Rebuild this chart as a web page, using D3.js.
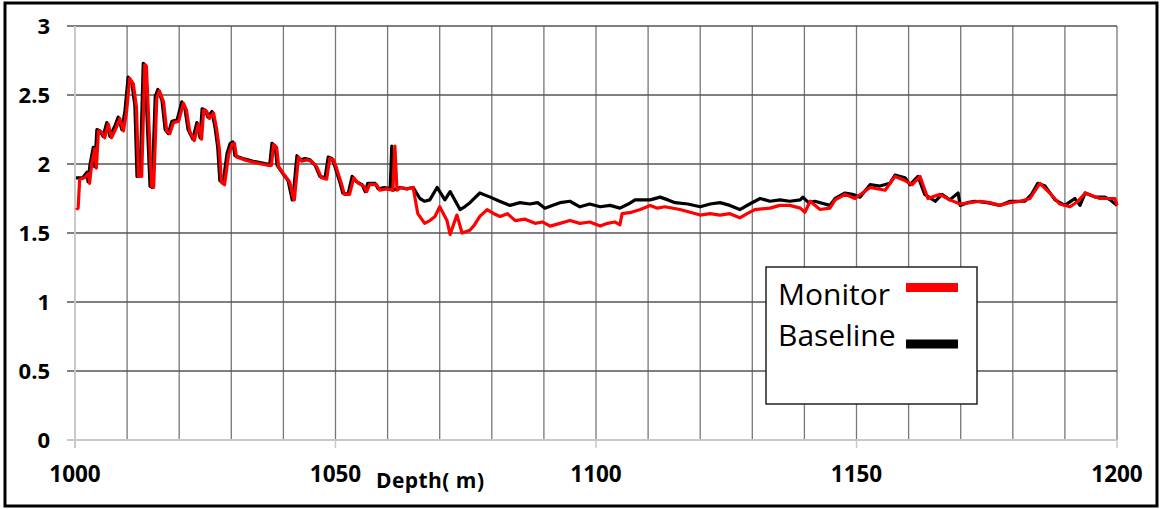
<!DOCTYPE html>
<html>
<head>
<meta charset="utf-8">
<script src="https://cdn.jsdelivr.net/npm/d3@7"></script>
<style>
  body { margin: 0; background: #fff; }
  text { font-family: "Open Sans", "Liberation Sans", sans-serif; }
</style>
</head>
<body>
<div id="chart"></div>
<script>
// ticks
const xTicksMajor = [1000, 1050, 1100, 1150, 1200]
const xGrid = d3.range(1010, 1201, 10)
const yTicks = [0, 0.5, 1, 1.5, 2, 2.5, 3]

// baseline (black) : [depth, value]
const baseline = [
  [1000.2, 1.90], [1000.8, 1.90], [1001.5, 1.90], [1002.3, 1.94], [1002.5, 1.87], [1002.9, 2.00],
  [1003.5, 2.12], [1003.8, 1.98], [1004.2, 2.25], [1004.8, 2.24], [1005.4, 2.20], [1006.1, 2.30],
  [1006.7, 2.20], [1007.7, 2.28], [1008.3, 2.34], [1009.0, 2.25], [1009.6, 2.39], [1010.2, 2.63],
  [1010.9, 2.59], [1011.5, 2.42], [1011.9, 1.91], [1012.5, 1.91], [1013.1, 2.73], [1013.4, 2.72],
  [1014.4, 1.84], [1014.8, 1.83], [1015.4, 2.49], [1015.9, 2.54], [1016.7, 2.46], [1017.3, 2.25],
  [1017.9, 2.22], [1018.6, 2.31], [1019.6, 2.32], [1020.5, 2.45], [1021.1, 2.40], [1021.7, 2.25],
  [1022.6, 2.18], [1023.4, 2.30], [1024.0, 2.19], [1024.4, 2.40], [1025.0, 2.39], [1025.5, 2.34],
  [1026.3, 2.38], [1026.9, 2.26], [1027.4, 2.12], [1027.8, 1.88], [1028.4, 1.86], [1029.2, 2.08],
  [1029.8, 2.15], [1030.3, 2.16], [1030.7, 2.06], [1032.2, 2.04], [1033.2, 2.03], [1034.2, 2.02],
  [1035.5, 2.01], [1036.9, 2.00], [1037.4, 2.00], [1037.8, 2.15], [1038.4, 2.13], [1038.8, 1.99],
  [1039.9, 1.93], [1040.9, 1.88], [1041.7, 1.74], [1041.8, 1.74], [1042.6, 2.06], [1043.2, 2.03],
  [1044.2, 2.04], [1045.1, 2.03], [1046.1, 1.99], [1047.0, 1.91], [1048.0, 1.90], [1048.6, 2.05],
  [1049.3, 2.04], [1049.9, 1.98], [1050.9, 1.86], [1051.4, 1.79], [1052.4, 1.78], [1053.2, 1.91],
  [1054.1, 1.87], [1055.1, 1.85], [1055.7, 1.80], [1056.2, 1.86], [1057.6, 1.86], [1058.2, 1.82],
  [1059.4, 1.83], [1060.5, 1.82], [1060.8, 2.13], [1061.0, 1.81], [1062.4, 1.83], [1063.6, 1.82],
  [1064.9, 1.83], [1066.2, 1.75], [1067.1, 1.73], [1068.1, 1.74], [1069.5, 1.83], [1071.0, 1.74],
  [1072.0, 1.80], [1073.9, 1.67], [1074.8, 1.69], [1075.8, 1.72], [1077.7, 1.79], [1079.7, 1.76],
  [1081.5, 1.73], [1083.5, 1.70], [1085.4, 1.72], [1087.3, 1.71], [1088.8, 1.72], [1090.2, 1.68],
  [1091.6, 1.70], [1093.1, 1.72], [1095.0, 1.73], [1096.9, 1.69], [1098.8, 1.71], [1100.8, 1.69],
  [1102.7, 1.70], [1104.6, 1.68], [1106.2, 1.71], [1107.5, 1.74], [1110.4, 1.74], [1112.3, 1.76],
  [1113.8, 1.74], [1115.2, 1.72], [1117.6, 1.71], [1120.0, 1.69], [1121.9, 1.71], [1123.8, 1.72],
  [1125.7, 1.70], [1127.6, 1.67], [1129.5, 1.71], [1131.5, 1.75], [1133.4, 1.73], [1135.3, 1.74],
  [1137.2, 1.73], [1139.2, 1.74], [1139.7, 1.76], [1140.8, 1.72], [1142.0, 1.73], [1144.9, 1.70],
  [1145.9, 1.75], [1147.8, 1.79], [1149.2, 1.78], [1150.7, 1.76], [1152.6, 1.85], [1154.5, 1.84],
  [1156.4, 1.86], [1157.4, 1.92], [1159.3, 1.90], [1160.3, 1.85], [1161.8, 1.91], [1163.1, 1.78],
  [1165.1, 1.73], [1166.4, 1.78], [1167.9, 1.74], [1169.5, 1.79], [1169.9, 1.70], [1171.3, 1.72],
  [1172.7, 1.73], [1175.1, 1.72], [1177.5, 1.70], [1179.5, 1.73], [1182.3, 1.73], [1183.6, 1.78],
  [1184.8, 1.86], [1186.2, 1.84], [1188.1, 1.74], [1190.0, 1.70], [1191.9, 1.75], [1192.9, 1.70],
  [1193.9, 1.79], [1195.8, 1.76], [1197.7, 1.76], [1198.7, 1.74], [1200.0, 1.70]
]

// monitor (red) : [depth, value]
const monitor = [
  [1000.2, 1.67], [1000.6, 1.68], [1000.9, 1.89], [1001.8, 1.90], [1002.6, 1.93], [1002.8, 1.86],
  [1003.2, 2.00], [1003.8, 2.11], [1004.1, 1.97], [1004.5, 2.24], [1005.1, 2.23], [1005.7, 2.19],
  [1006.4, 2.29], [1007.0, 2.19], [1008.0, 2.27], [1008.6, 2.33], [1009.3, 2.24], [1009.9, 2.38],
  [1010.5, 2.62], [1011.2, 2.58], [1011.8, 2.41], [1012.2, 1.91], [1012.8, 1.91], [1013.4, 2.72],
  [1013.7, 2.71], [1014.7, 1.84], [1015.1, 1.83], [1015.7, 2.48], [1016.2, 2.53], [1017.0, 2.45],
  [1017.6, 2.24], [1018.2, 2.22], [1018.9, 2.30], [1019.9, 2.31], [1020.8, 2.44], [1021.4, 2.39],
  [1022.0, 2.24], [1022.9, 2.17], [1023.7, 2.29], [1024.3, 2.18], [1024.7, 2.39], [1025.3, 2.38],
  [1025.8, 2.33], [1026.6, 2.37], [1027.2, 2.25], [1027.7, 2.11], [1028.1, 1.87], [1028.7, 1.85],
  [1029.5, 2.07], [1030.1, 2.14], [1030.6, 2.15], [1031.0, 2.05], [1032.5, 2.03], [1033.5, 2.02],
  [1034.5, 2.01], [1035.8, 2.00], [1037.2, 1.99], [1037.7, 1.99], [1038.1, 2.14], [1038.7, 2.12],
  [1039.1, 1.98], [1040.2, 1.92], [1041.2, 1.87], [1042.0, 1.74], [1042.1, 1.74], [1042.9, 2.05],
  [1043.5, 2.02], [1044.5, 2.03], [1045.4, 2.02], [1046.4, 1.98], [1047.3, 1.90], [1048.3, 1.89],
  [1048.9, 2.04], [1049.6, 2.03], [1050.2, 1.97], [1051.2, 1.85], [1051.7, 1.78], [1052.7, 1.78],
  [1053.5, 1.90], [1054.4, 1.86], [1055.4, 1.84], [1056.0, 1.80], [1056.5, 1.85], [1057.9, 1.85],
  [1058.5, 1.81], [1059.8, 1.82], [1061.0, 1.81], [1061.4, 2.13], [1061.8, 1.81], [1062.6, 1.83],
  [1063.8, 1.82], [1064.9, 1.83], [1065.8, 1.64], [1067.1, 1.57], [1068.1, 1.59], [1069.1, 1.62],
  [1070.0, 1.69], [1071.4, 1.59], [1072.0, 1.49], [1073.3, 1.63], [1074.3, 1.50], [1075.8, 1.52],
  [1076.7, 1.56], [1077.7, 1.62], [1079.1, 1.67], [1080.4, 1.64], [1081.6, 1.62], [1083.0, 1.64],
  [1084.5, 1.59], [1086.4, 1.60], [1088.3, 1.57], [1089.7, 1.58], [1091.2, 1.55], [1093.1, 1.57],
  [1095.0, 1.59], [1096.9, 1.57], [1098.8, 1.58], [1100.8, 1.55], [1102.2, 1.57], [1103.6, 1.58],
  [1104.6, 1.56], [1105.0, 1.64], [1106.8, 1.65], [1108.5, 1.67], [1110.4, 1.70], [1111.8, 1.68],
  [1113.2, 1.69], [1116.1, 1.67], [1118.1, 1.65], [1120.0, 1.63], [1121.9, 1.64], [1123.8, 1.63],
  [1125.7, 1.64], [1127.6, 1.61], [1129.0, 1.64], [1130.5, 1.67], [1133.4, 1.68], [1135.3, 1.70],
  [1137.2, 1.70], [1139.2, 1.68], [1140.1, 1.65], [1141.1, 1.73], [1143.0, 1.67], [1144.9, 1.68],
  [1145.9, 1.74], [1147.8, 1.78], [1149.7, 1.75], [1152.6, 1.83], [1155.5, 1.81], [1157.4, 1.91],
  [1159.3, 1.88], [1160.7, 1.85], [1162.2, 1.91], [1163.7, 1.75], [1166.0, 1.78], [1167.9, 1.74],
  [1169.9, 1.71], [1171.8, 1.72], [1173.7, 1.73], [1175.6, 1.72], [1177.5, 1.70], [1179.4, 1.72],
  [1181.4, 1.73], [1183.3, 1.75], [1185.2, 1.86], [1187.1, 1.79], [1189.0, 1.71], [1191.0, 1.69],
  [1192.5, 1.73], [1193.9, 1.79], [1196.7, 1.75], [1199.6, 1.75], [1200.0, 1.70]
]

const width = 1160
const height = 509

const x = d3.scaleLinear().domain([1000, 1200]).range([75, 1117])
const y = d3.scaleLinear().domain([0, 3]).range([440, 26])

const svg = d3.select("#chart").append("svg")
  .attr("width", width)
  .attr("height", height)

// outer frame
svg.append("rect")
  .attr("x", 5).attr("y", 3)
  .attr("width", 1152).attr("height", 503)
  .attr("fill", "none").attr("stroke", "#000").attr("stroke-width", 3)

// grid
svg.append("g").selectAll("line")
  .data(xGrid)
  .join("line")
    .attr("x1", d => x(d)).attr("x2", d => x(d))
    .attr("y1", y(3)).attr("y2", y(0))
    .attr("stroke", "#777").attr("stroke-width", 1.3)

svg.append("g").selectAll("line")
  .data(yTicks.filter(d => d > 0))
  .join("line")
    .attr("x1", x(1000) - 8).attr("x2", x(1200))
    .attr("y1", d => y(d)).attr("y2", d => y(d))
    .attr("stroke", "#555").attr("stroke-width", 1.3)

// axis lines
svg.append("line")
  .attr("x1", x(1000)).attr("x2", x(1000))
  .attr("y1", y(3)).attr("y2", y(0) + 8)
  .attr("stroke", "#c8c8c8").attr("stroke-width", 2)

svg.append("line")
  .attr("x1", x(1000) - 8).attr("x2", x(1200))
  .attr("y1", y(0)).attr("y2", y(0))
  .attr("stroke", "#c8c8c8").attr("stroke-width", 2)

svg.append("g").selectAll("line")
  .data(xTicksMajor.slice(1))
  .join("line")
    .attr("x1", d => x(d)).attr("x2", d => x(d))
    .attr("y1", y(0)).attr("y2", y(0) + 8)
    .attr("stroke", "#c8c8c8").attr("stroke-width", 1.5)

// tick labels
svg.append("g").selectAll("text")
  .data(yTicks)
  .join("text")
    .attr("x", 50)
    .attr("y", d => y(d) + 8)
    .attr("text-anchor", "end")
    .attr("font-size", 22)
    .attr("font-weight", "bold")
    .attr("fill", "#000")
    .text(d => d)

svg.append("g").selectAll("text")
  .data(xTicksMajor)
  .join("text")
    .attr("x", d => x(d))
    .attr("y", 482)
    .attr("text-anchor", "middle")
    .attr("font-size", 22.5)
    .attr("font-weight", "bold")
    .attr("fill", "#000")
    .text(d => d)

svg.append("text")
  .attr("x", 376)
  .attr("y", 488)
  .attr("font-size", 21)
  .attr("font-weight", "bold")
  .attr("fill", "#000")
  .attr("textLength", 108)
  .text("Depth( m)")

// data lines
const line = d3.line()
  .x(d => x(d[0]))
  .y(d => y(d[1]))

svg.append("path")
  .datum(baseline)
  .attr("d", line)
  .attr("fill", "none")
  .attr("stroke", "#000")
  .attr("stroke-width", 3.2)
  .attr("stroke-linejoin", "round")

svg.append("path")
  .datum(monitor)
  .attr("d", line)
  .attr("fill", "none")
  .attr("stroke", "#ff0000")
  .attr("stroke-width", 3.2)
  .attr("stroke-linejoin", "round")

// legend
const legend = svg.append("g")
legend.append("rect")
  .attr("x", 766).attr("y", 267)
  .attr("width", 211).attr("height", 137)
  .attr("fill", "#fff").attr("stroke", "#222").attr("stroke-width", 1.5)

const legendItems = [
  {name: "Monitor", color: "#ff0000", ty: 305, ly: 287.5},
  {name: "Baseline", color: "#000", ty: 346, ly: 344}
]

legend.selectAll("text")
  .data(legendItems)
  .join("text")
    .attr("x", 778)
    .attr("y", d => d.ty)
    .attr("font-size", 30)
    .attr("fill", "#000")
    .text(d => d.name)

legend.selectAll("line")
  .data(legendItems)
  .join("line")
    .attr("x1", 906).attr("x2", 958)
    .attr("y1", d => d.ly).attr("y2", d => d.ly)
    .attr("stroke", d => d.color)
    .attr("stroke-width", 9)
</script>
</body>
</html>
